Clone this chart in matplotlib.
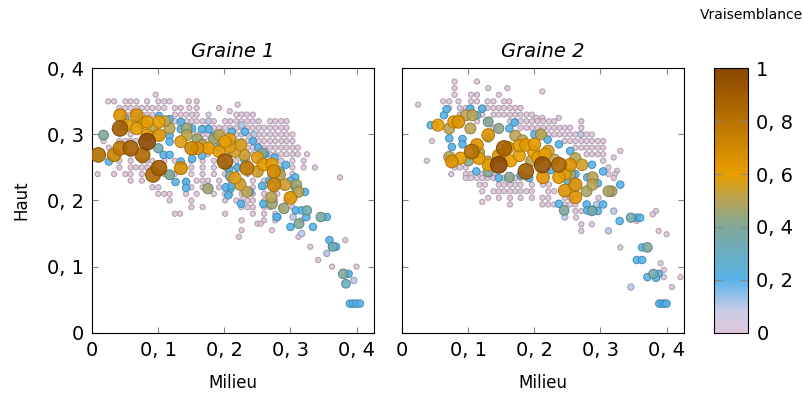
import numpy as np
import matplotlib.pyplot as plt
from matplotlib.colors import LinearSegmentedColormap
from matplotlib.cm import ScalarMappable
from matplotlib.colors import Normalize

# ---- Graine 1 : faint candidates (likelihood ~ 0), x values per row of y
bg1_y = [0.36, 0.35, 0.345, 0.34, 0.335, 0.33, 0.32, 0.31, 0.30, 0.29, 0.28, 0.27,
         0.26, 0.25, 0.24, 0.235, 0.23, 0.22, 0.21, 0.20, 0.19, 0.18, 0.17, 0.165,
         0.155, 0.145, 0.14, 0.13, 0.12, 0.11, 0.10]
bg1_x = [
    [0.096],
    [0.024, 0.033, 0.050, 0.058, 0.067, 0.083, 0.100, 0.109, 0.117, 0.146, 0.158],
    [0.220],
    [0.041, 0.050, 0.058, 0.067, 0.075, 0.083, 0.091, 0.100, 0.109, 0.125, 0.134, 0.147, 0.158, 0.192],
    [0.208],
    [0.050, 0.058, 0.066, 0.075, 0.083, 0.091, 0.125, 0.134, 0.142, 0.151, 0.158, 0.176, 0.218,
     0.226, 0.234, 0.243],
    [0.066, 0.125, 0.134, 0.143, 0.151, 0.158, 0.167, 0.176, 0.184, 0.201, 0.209, 0.218, 0.226,
     0.235, 0.243, 0.252, 0.269, 0.277, 0.286, 0.294],
    [0.041, 0.050, 0.167, 0.175, 0.184, 0.192, 0.201, 0.209, 0.218, 0.226, 0.235, 0.243, 0.252,
     0.260, 0.269, 0.277, 0.286, 0.294],
    [0.058, 0.158, 0.167, 0.175, 0.184, 0.192, 0.201, 0.209, 0.218, 0.226, 0.235, 0.243, 0.252,
     0.260, 0.269, 0.277, 0.286, 0.294, 0.303],
    [0.017, 0.041, 0.050, 0.058, 0.066, 0.158, 0.167, 0.175, 0.184, 0.192, 0.201, 0.209, 0.218,
     0.226, 0.235, 0.243, 0.252, 0.260, 0.269, 0.277, 0.286, 0.294, 0.303],
    [0.025, 0.175, 0.184, 0.192, 0.201, 0.209, 0.218, 0.226, 0.235, 0.243, 0.252, 0.260, 0.269,
     0.277, 0.286, 0.294, 0.303, 0.311],
    [0.058, 0.175, 0.192, 0.209, 0.226, 0.235, 0.243, 0.252, 0.260, 0.269, 0.277, 0.286, 0.294,
     0.303, 0.311, 0.325],
    [0.041, 0.058, 0.075, 0.083, 0.091, 0.109, 0.125, 0.150, 0.167, 0.184, 0.201, 0.218, 0.235,
     0.252, 0.260, 0.269, 0.286, 0.303, 0.320],
    [0.041, 0.058, 0.066, 0.075, 0.083, 0.091, 0.150, 0.167, 0.184, 0.201, 0.218, 0.235, 0.252,
     0.269, 0.286, 0.303, 0.320, 0.337],
    [0.008, 0.033, 0.050, 0.058, 0.075, 0.109, 0.117, 0.125, 0.150, 0.167, 0.184, 0.201, 0.218,
     0.235, 0.252, 0.269, 0.286, 0.303],
    [0.375],
    [0.058, 0.075, 0.142, 0.158, 0.167, 0.175, 0.192, 0.209, 0.226, 0.243, 0.260, 0.280],
    [0.091, 0.100, 0.150, 0.167, 0.175, 0.192, 0.209, 0.226, 0.243, 0.260, 0.277, 0.290],
    [0.100, 0.109, 0.117, 0.142, 0.158, 0.184, 0.201, 0.209, 0.226, 0.243, 0.260, 0.280],
    [0.117, 0.150, 0.201, 0.218, 0.226, 0.235, 0.243, 0.260, 0.269, 0.277, 0.294],
    [0.150, 0.167, 0.226, 0.235, 0.243, 0.260, 0.269, 0.286, 0.303],
    [0.125, 0.133, 0.201, 0.243, 0.260, 0.277],
    [0.226, 0.260, 0.277, 0.317],
    [0.250, 0.255],
    [0.226, 0.272],
    [0.222, 0.312],
    [0.383],
    [0.330],
    [0.355],
    [0.342],
    [0.363, 0.400],
]

# Graine 1 : scored candidates (x, y, likelihood)
pts1 = [
    # blue
    (0.025, 0.259, 0.20), (0.101, 0.328, 0.20), (0.117, 0.323, 0.20), (0.134, 0.319, 0.20),
    (0.134, 0.308, 0.20), (0.117, 0.298, 0.20), (0.117, 0.289, 0.20), (0.108, 0.269, 0.20),
    (0.117, 0.269, 0.20), (0.134, 0.259, 0.20), (0.126, 0.228, 0.20), (0.142, 0.228, 0.20),
    (0.142, 0.219, 0.20), (0.151, 0.263, 0.20), (0.166, 0.268, 0.20), (0.071, 0.323, 0.20),
    (0.050, 0.323, 0.20), (0.151, 0.309, 0.20), (0.176, 0.308, 0.20), (0.166, 0.308, 0.20),
    (0.184, 0.298, 0.20), (0.192, 0.280, 0.20), (0.207, 0.288, 0.20), (0.207, 0.248, 0.20),
    (0.209, 0.218, 0.20), (0.202, 0.220, 0.20), (0.211, 0.304, 0.20), (0.231, 0.304, 0.20),
    (0.216, 0.285, 0.20), (0.251, 0.280, 0.20), (0.276, 0.265, 0.20), (0.293, 0.254, 0.20),
    (0.307, 0.235, 0.20), (0.307, 0.219, 0.20), (0.322, 0.213, 0.20), (0.257, 0.222, 0.20),
    (0.259, 0.195, 0.20), (0.225, 0.195, 0.20), (0.239, 0.213, 0.20), (0.211, 0.222, 0.20),
    (0.308, 0.185, 0.20), (0.317, 0.185, 0.20), (0.280, 0.175, 0.20), (0.206, 0.208, 0.20),
    (0.324, 0.175, 0.20), (0.279, 0.175, 0.20), (0.300, 0.160, 0.20), (0.334, 0.160, 0.20),
    (0.355, 0.175, 0.20), (0.359, 0.140, 0.20), (0.363, 0.130, 0.20), (0.369, 0.130, 0.20),
    (0.388, 0.089, 0.20), (0.390, 0.044, 0.20), (0.395, 0.044, 0.20), (0.400, 0.044, 0.20),
    (0.405, 0.044, 0.20), (0.243, 0.290, 0.20), (0.262, 0.270, 0.20), (0.285, 0.245, 0.20),
    (0.230, 0.262, 0.20), (0.220, 0.250, 0.20), (0.268, 0.230, 0.20), (0.300, 0.230, 0.20),
    # lavender-blue
    (0.304, 0.175, 0.10), (0.317, 0.150, 0.10), (0.355, 0.120, 0.10), (0.396, 0.079, 0.10),
    (0.176, 0.320, 0.10), (0.226, 0.314, 0.10), (0.245, 0.300, 0.10),
    # teal / green / olive
    (0.325, 0.185, 0.35), (0.313, 0.165, 0.40), (0.346, 0.175, 0.38), (0.364, 0.130, 0.33),
    (0.380, 0.089, 0.38), (0.384, 0.074, 0.30), (0.017, 0.299, 0.40), (0.100, 0.279, 0.35),
    (0.117, 0.239, 0.40), (0.175, 0.218, 0.45), (0.117, 0.309, 0.50), (0.110, 0.320, 0.50),
    (0.091, 0.309, 0.50), (0.143, 0.309, 0.45), (0.143, 0.299, 0.50), (0.159, 0.293, 0.45),
    (0.166, 0.284, 0.50), (0.184, 0.293, 0.45), (0.192, 0.299, 0.50), (0.209, 0.237, 0.40),
    (0.258, 0.272, 0.40), (0.290, 0.188, 0.45), (0.272, 0.195, 0.45), (0.309, 0.224, 0.45),
    (0.284, 0.239, 0.50), (0.234, 0.213, 0.50), (0.271, 0.205, 0.50), (0.312, 0.213, 0.50),
    (0.250, 0.244, 0.55), (0.224, 0.224, 0.55), (0.292, 0.224, 0.55), (0.230, 0.269, 0.55),
    (0.216, 0.274, 0.55),
    # orange
    (0.042, 0.329, 0.65), (0.067, 0.329, 0.65), (0.053, 0.314, 0.60), (0.067, 0.309, 0.62),
    (0.076, 0.318, 0.60), (0.083, 0.319, 0.62), (0.101, 0.319, 0.60), (0.101, 0.299, 0.65),
    (0.083, 0.299, 0.60), (0.033, 0.269, 0.72), (0.134, 0.249, 0.68), (0.134, 0.289, 0.58),
    (0.150, 0.279, 0.70), (0.159, 0.279, 0.65), (0.176, 0.279, 0.60), (0.192, 0.274, 0.60),
    (0.201, 0.289, 0.60), (0.208, 0.281, 0.58), (0.208, 0.293, 0.58), (0.225, 0.284, 0.57),
    (0.250, 0.265, 0.58), (0.259, 0.254, 0.62), (0.272, 0.255, 0.62), (0.275, 0.244, 0.68),
    (0.216, 0.234, 0.58), (0.275, 0.224, 0.72), (0.300, 0.204, 0.65), (0.234, 0.249, 0.78),
    # brown
    (0.042, 0.309, 0.90), (0.083, 0.289, 1.00), (0.009, 0.269, 0.82), (0.042, 0.279, 0.78),
    (0.058, 0.279, 0.88), (0.076, 0.269, 0.85), (0.092, 0.239, 0.85), (0.101, 0.249, 0.90),
    (0.201, 0.259, 0.90),
]

# ---- Graine 2 : faint candidates
bg2_y = [0.38, 0.37, 0.365, 0.36, 0.35, 0.345, 0.34, 0.33, 0.325, 0.32, 0.31, 0.30, 0.29,
         0.28, 0.275, 0.27, 0.265, 0.26, 0.25, 0.245, 0.24, 0.234, 0.224, 0.214, 0.204,
         0.198, 0.194, 0.184, 0.179, 0.174, 0.169, 0.164, 0.154, 0.149, 0.129, 0.105,
         0.095, 0.084, 0.069]
bg2_x = [
    [0.079, 0.113],
    [0.079, 0.130, 0.159],
    [0.212],
    [0.079, 0.104, 0.113, 0.146],
    [0.062, 0.071, 0.085, 0.104, 0.113, 0.129, 0.138, 0.154, 0.162],
    [0.024],
    [0.071, 0.087, 0.096, 0.104, 0.121, 0.129, 0.138, 0.146, 0.154, 0.163, 0.171, 0.179],
    [0.087, 0.121, 0.138, 0.146, 0.154, 0.163, 0.171, 0.179, 0.188, 0.196],
    [0.203, 0.212, 0.237],
    [0.113, 0.129, 0.163, 0.171, 0.179, 0.188, 0.196, 0.205, 0.213, 0.222, 0.230, 0.271],
    [0.138, 0.179, 0.188, 0.196, 0.205, 0.213, 0.222, 0.230, 0.238, 0.246, 0.254, 0.271],
    [0.205, 0.213, 0.222, 0.230, 0.238, 0.246, 0.254, 0.262, 0.271, 0.279, 0.287],
    [0.045, 0.246, 0.254, 0.262, 0.271, 0.279, 0.287, 0.296, 0.304],
    [0.262, 0.271, 0.279, 0.287, 0.296, 0.304],
    [0.330],
    [0.279, 0.287, 0.296, 0.304],
    [0.320],
    [0.037, 0.304],
    [0.079, 0.087, 0.096, 0.312],
    [0.325],
    [0.074, 0.096, 0.104, 0.121, 0.138, 0.312, 0.322],
    [0.096, 0.104, 0.113, 0.121, 0.129, 0.138, 0.154, 0.163, 0.171, 0.179, 0.188, 0.320],
    [0.117, 0.125, 0.146, 0.154, 0.163, 0.171, 0.179, 0.196, 0.213, 0.222],
    [0.121, 0.138, 0.146, 0.154, 0.163, 0.171, 0.179, 0.188, 0.196, 0.221, 0.230],
    [0.130, 0.146, 0.163, 0.179, 0.196, 0.212, 0.221, 0.246, 0.254, 0.297],
    [0.121],
    [0.163, 0.212, 0.221, 0.230, 0.246, 0.254, 0.262, 0.300],
    [0.262, 0.271, 0.290, 0.384],
    [0.379],
    [0.263, 0.355],
    [0.355],
    [0.271, 0.287],
    [0.271, 0.388],
    [0.400],
    [0.330],
    [0.391],
    [0.396],
    [0.396, 0.421],
    [0.408],
]

# Graine 2 : scored candidates (x, y, likelihood)
pts2 = [
    # blue
    (0.043, 0.314, 0.20), (0.050, 0.314, 0.20), (0.063, 0.329, 0.20), (0.067, 0.338, 0.20),
    (0.103, 0.339, 0.20), (0.113, 0.329, 0.20), (0.121, 0.339, 0.20), (0.075, 0.281, 0.20),
    (0.071, 0.294, 0.20), (0.091, 0.293, 0.20), (0.162, 0.309, 0.20), (0.146, 0.234, 0.20),
    (0.112, 0.244, 0.20), (0.179, 0.238, 0.20), (0.192, 0.234, 0.20), (0.130, 0.294, 0.20),
    (0.091, 0.285, 0.20), (0.237, 0.285, 0.20), (0.254, 0.275, 0.20), (0.287, 0.254, 0.20),
    (0.304, 0.244, 0.20), (0.330, 0.224, 0.20), (0.237, 0.195, 0.20), (0.279, 0.194, 0.20),
    (0.280, 0.185, 0.20), (0.304, 0.194, 0.20), (0.296, 0.184, 0.20), (0.329, 0.169, 0.20),
    (0.355, 0.174, 0.20), (0.360, 0.174, 0.20), (0.363, 0.129, 0.20), (0.355, 0.110, 0.20),
    (0.363, 0.110, 0.20), (0.371, 0.084, 0.20), (0.388, 0.089, 0.20), (0.384, 0.083, 0.20),
    (0.389, 0.044, 0.20), (0.393, 0.044, 0.20), (0.397, 0.044, 0.20), (0.400, 0.044, 0.20),
    (0.200, 0.300, 0.20), (0.220, 0.292, 0.20), (0.170, 0.318, 0.20), (0.262, 0.240, 0.20),
    (0.280, 0.235, 0.20), (0.296, 0.226, 0.20), (0.250, 0.230, 0.20), (0.225, 0.246, 0.20),
    # lavender-blue
    (0.312, 0.154, 0.10), (0.346, 0.069, 0.10), (0.320, 0.184, 0.10), (0.294, 0.194, 0.10),
    (0.246, 0.175, 0.10), (0.270, 0.300, 0.10),
    # teal / green / olive
    (0.071, 0.309, 0.50), (0.096, 0.329, 0.50), (0.106, 0.329, 0.50), (0.103, 0.309, 0.50),
    (0.130, 0.319, 0.40), (0.146, 0.309, 0.42), (0.071, 0.266, 0.50), (0.100, 0.260, 0.42),
    (0.162, 0.235, 0.42), (0.130, 0.243, 0.40), (0.171, 0.298, 0.50), (0.182, 0.291, 0.50),
    (0.116, 0.273, 0.50), (0.129, 0.259, 0.50), (0.221, 0.275, 0.55), (0.262, 0.264, 0.50),
    (0.272, 0.254, 0.55), (0.288, 0.235, 0.50), (0.288, 0.224, 0.50), (0.279, 0.214, 0.48),
    (0.312, 0.214, 0.48), (0.317, 0.214, 0.45), (0.245, 0.185, 0.38), (0.288, 0.185, 0.33),
    (0.287, 0.184, 0.35), (0.346, 0.174, 0.35), (0.371, 0.129, 0.38), (0.380, 0.089, 0.35),
    (0.210, 0.300, 0.50), (0.195, 0.260, 0.50), (0.230, 0.262, 0.50), (0.255, 0.240, 0.45),
    # orange
    (0.054, 0.314, 0.60), (0.078, 0.319, 0.60), (0.085, 0.319, 0.65), (0.130, 0.299, 0.65),
    (0.075, 0.259, 0.65), (0.088, 0.264, 0.60), (0.113, 0.284, 0.65), (0.116, 0.264, 0.62),
    (0.130, 0.254, 0.60), (0.146, 0.268, 0.65), (0.164, 0.260, 0.60), (0.177, 0.283, 0.62),
    (0.187, 0.284, 0.62), (0.177, 0.268, 0.60), (0.199, 0.273, 0.60), (0.205, 0.265, 0.60),
    (0.216, 0.270, 0.60), (0.254, 0.254, 0.65), (0.213, 0.235, 0.65), (0.237, 0.235, 0.62),
    (0.246, 0.240, 0.60), (0.246, 0.215, 0.65), (0.262, 0.224, 0.68), (0.262, 0.205, 0.65),
    (0.200, 0.285, 0.62), (0.160, 0.280, 0.60),
    # brown
    (0.105, 0.274, 0.82), (0.154, 0.279, 0.88), (0.146, 0.254, 1.00), (0.187, 0.244, 0.90),
    (0.212, 0.254, 0.95), (0.237, 0.254, 0.85),
]

colorbar_ticks = [0, 0.2, 0.4, 0.6, 0.8, 1]
colorbar_labels = ['0', '0, 2', '0, 4', '0, 6', '0, 8', '1']
axis_ticks = [0, 0.1, 0.2, 0.3, 0.4]
axis_labels = ['0', '0, 1', '0, 2', '0, 3', '0, 4']
bg_value = 0.0

cmap = LinearSegmentedColormap.from_list('vrais', [
    (0.00, (0.87, 0.78, 0.86)),
    (0.08, (0.80, 0.80, 0.91)),
    (0.20, (0.34, 0.70, 0.91)),
    (0.40, (0.50, 0.66, 0.60)),
    (0.50, (0.72, 0.64, 0.33)),
    (0.60, (0.91, 0.62, 0.00)),
    (1.00, (0.54, 0.28, 0.00)),
])


def draw_panel(ax, bg_y, bg_x, pts, title, show_y):
    x = [xx for yy, row in zip(bg_y, bg_x) for xx in row]
    y = [yy for yy, row in zip(bg_y, bg_x) for xx in row]
    v = [bg_value] * len(x)
    x += [p[0] for p in pts]
    y += [p[1] for p in pts]
    v += [p[2] for p in pts]
    x, y, v = np.array(x), np.array(y), np.array(v)
    order = np.argsort(v, kind='stable')
    x, y, v = x[order], y[order], v[order]

    face = cmap(v)
    edge = face.copy()
    edge[:, :3] *= 0.78
    face[:, 3] = 0.9
    size = (0.72 * (5.2 + 11.5 * v)) ** 2
    ax.scatter(x, y, s=size, c=face, edgecolors=edge, linewidths=0.7, zorder=3)

    ax.set_xlim(0, 0.426)
    ax.set_ylim(0, 0.4)
    ax.set_xticks(axis_ticks)
    ax.set_xticklabels(axis_labels)
    ax.set_yticks(axis_ticks)
    if show_y:
        ax.set_yticklabels(axis_labels)
        ax.set_ylabel('Haut', fontsize=12, labelpad=12)
    else:
        ax.set_yticklabels([])
    ax.tick_params(direction='in', top=True, right=True, length=4, width=0.8,
                   color='#888888', labelsize=14, pad=6)
    ax.set_xlabel('Milieu', fontsize=12, labelpad=10)
    ax.set_title(title, fontsize=14, style='italic', pad=8)
    for s in ax.spines.values():
        s.set_linewidth(0.8)


fig = plt.figure(figsize=(8.04, 3.99), dpi=100)
ax1 = fig.add_axes([0.1148, 0.1662, 0.35, 0.6626])
ax2 = fig.add_axes([0.5004, 0.1662, 0.35, 0.6626])
cax = fig.add_axes([0.888, 0.1662, 0.0423, 0.6626])

draw_panel(ax1, bg1_y, bg1_x, pts1, 'Graine 1', True)
draw_panel(ax2, bg2_y, bg2_x, pts2, 'Graine 2', False)

cb = fig.colorbar(ScalarMappable(norm=Normalize(0, 1), cmap=cmap), cax=cax)
cb.set_ticks(colorbar_ticks)
cb.set_ticklabels(colorbar_labels)
cax.tick_params(direction='in', left=True, right=True, length=6, width=0.8,
                color='#888888', labelsize=14, pad=6)
cb.outline.set_linewidth(0.8)
fig.text(0.935, 0.962, 'Vraisemblance', ha='center', va='center', fontsize=10)

plt.savefig('out.png', dpi=100)
